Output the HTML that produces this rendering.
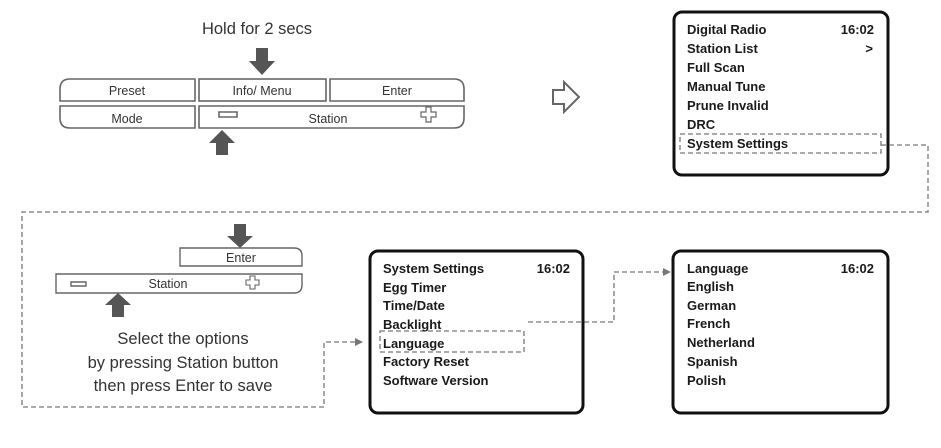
<!DOCTYPE html>
<html><head><meta charset="utf-8"><style>
html,body{margin:0;padding:0;background:#fff;}
svg text{font-family:"Liberation Sans",Arial,sans-serif;}
.s{font-size:13px;fill:#1a1a1a;font-weight:bold;}
.b{font-size:12.5px;fill:#333;}
.c{font-size:16.5px;fill:#333;}
</style></head><body>
<svg width="941" height="443" viewBox="0 0 941 443" xmlns="http://www.w3.org/2000/svg">
<defs><marker id="ah" markerWidth="8" markerHeight="8" refX="7" refY="4" orient="auto" markerUnits="userSpaceOnUse"><path d="M0,0 L8,4 L0,8 Z" fill="#777"/></marker></defs>
<text x="257" y="34" class="c" text-anchor="middle">Hold for 2 secs</text>
<path d="M256,48 h12 v13 h7 l-13,14 l-13,-14 h7z" fill="#555"/>
<g fill="none" stroke="#666" stroke-width="1.6">
<path d="M195,79 H70 Q60,79 60,89 V101 H195 Z"/>
<rect x="199" y="79" width="127" height="22"/>
<path d="M330,79 H454 Q464,79 464,89 V101 H330 Z"/>
<path d="M195,106 H60 V118 Q60,128 70,128 H195 Z"/>
<path d="M199,106 H464 V118 Q464,128 454,128 H199 Z"/>
<path d="M219,112 h18 v5 h-18z"/>
<path d="M421,112 h5 v-5 h5 v5 h5 v5 h-5 v5 h-5 v-5 h-5z" stroke-width="1.2"/>
</g>
<text x="127" y="95" class="b" text-anchor="middle">Preset</text>
<text x="262" y="95" class="b" text-anchor="middle">Info/ Menu</text>
<text x="397" y="95" class="b" text-anchor="middle">Enter</text>
<text x="127" y="123" class="b" text-anchor="middle">Mode</text>
<text x="328" y="123" class="b" text-anchor="middle">Station</text>
<path d="M216,155 h12 v-12 h7 l-13,-13 l-13,13 h7z" fill="#555"/>
<path d="M553,90 h11 v-8 l15,15 l-15,15 v-8 h-11z" fill="none" stroke="#666" stroke-width="2"/>
<rect x="674" y="12" width="214" height="163" rx="8" fill="none" stroke="#111" stroke-width="3"/>
<text x="687" y="34" class="s">Digital Radio</text><text x="874" y="34" class="s" text-anchor="end">16:02</text>
<text x="687" y="53" class="s">Station List</text><text x="873" y="53" class="s" text-anchor="end">&gt;</text>
<text x="687" y="72" class="s">Full Scan</text>
<text x="687" y="91" class="s">Manual Tune</text>
<text x="687" y="110" class="s">Prune Invalid</text>
<text x="687" y="129" class="s">DRC</text>
<text x="687" y="148" class="s">System Settings</text>
<g fill="none" stroke="#777" stroke-width="1.3" stroke-dasharray="5,3">
<rect x="680" y="134" width="201" height="19"/>
<path d="M881,145 H928 V212 H22 V407 H324 V342 H362" marker-end="url(#ah)"/>
<rect x="380" y="331" width="144" height="21"/>
<path d="M528,322 H614 V272 H670" marker-end="url(#ah)"/>
</g>
<path d="M234,224 h12 v12 h7 l-13,12 l-13,-12 h7z" fill="#555"/>
<g fill="none" stroke="#666" stroke-width="1.4">
<path d="M180,248 H294 Q302,248 302,256 V266 H180 Z"/>
<path d="M56,274 H302 V285 Q302,293 294,293 H56 Z"/>
<path d="M71,282 h15 v4 h-15z"/>
<path d="M246,280 h4 v-4 h5 v4 h4 v5 h-4 v4 h-5 v-4 h-4z" stroke-width="1.1"/>
</g>
<text x="241" y="262" class="b" font-size="11" text-anchor="middle">Enter</text>
<text x="168" y="288" class="b" font-size="11" text-anchor="middle">Station</text>
<path d="M112,317 h12 v-12 h7 l-13,-12 l-13,12 h7z" fill="#555"/>
<text x="183" y="344" class="c" text-anchor="middle">Select the options</text>
<text x="183" y="368" class="c" text-anchor="middle">by pressing Station button</text>
<text x="183" y="391" class="c" text-anchor="middle">then press Enter to save</text>
<rect x="370" y="251" width="213" height="162" rx="8" fill="none" stroke="#111" stroke-width="3"/>
<text x="383" y="273" class="s">System Settings</text><text x="570" y="273" class="s" text-anchor="end">16:02</text>
<text x="383" y="292" class="s">Egg Timer</text>
<text x="383" y="310" class="s">Time/Date</text>
<text x="383" y="329" class="s">Backlight</text>
<text x="383" y="348" class="s">Language</text>
<text x="383" y="366" class="s">Factory Reset</text>
<text x="383" y="385" class="s">Software Version</text>
<rect x="673" y="251" width="215" height="162" rx="8" fill="none" stroke="#111" stroke-width="3"/>
<text x="687" y="273" class="s">Language</text><text x="874" y="273" class="s" text-anchor="end">16:02</text>
<text x="687" y="291" class="s">English</text>
<text x="687" y="310" class="s">German</text>
<text x="687" y="328" class="s">French</text>
<text x="687" y="347" class="s">Netherland</text>
<text x="687" y="366" class="s">Spanish</text>
<text x="687" y="385" class="s">Polish</text>
</svg>
</body></html>
